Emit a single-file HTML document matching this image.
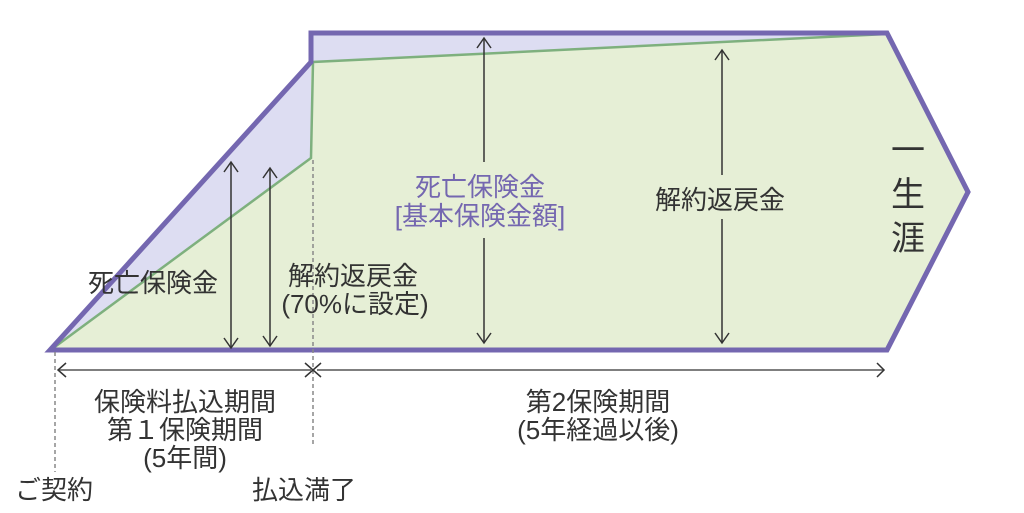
<!DOCTYPE html>
<html><head><meta charset="utf-8"><style>
body{margin:0;background:#fff;}
svg text{font-family:"Liberation Sans","Noto Sans CJK JP",sans-serif;fill:#333;}
</style></head><body>
<svg width="1024" height="508" viewBox="0 0 1024 508" xmlns="http://www.w3.org/2000/svg">
<polygon points="50,350 311,62 311,33 887,33 968,192 887,350" fill="#ddddf2"/>
<polygon points="52,350 311,158 311,62 887,34 968,192 887,350" fill="#e6efd6"/>
<polyline points="52,349 311,158 313,62 887,34" fill="none" stroke="#7eb07e" stroke-width="2.5"/>
<polygon points="50,350 311,62 311,33 887,33 968,192 887,350" fill="none" stroke="#7467b0" stroke-width="5" stroke-linejoin="miter"/>
<g stroke="#888" stroke-width="1.5" stroke-dasharray="4,3">
<line x1="55" y1="352" x2="55" y2="472"/>
<line x1="313" y1="160" x2="313" y2="445"/>
</g>
<g stroke="#333" stroke-width="1.5" fill="none">
<line x1="231" y1="162" x2="231" y2="348"/><polyline points="224,172 231,162 238,172"/><polyline points="224,338 231,348 238,338"/>
<line x1="270" y1="168" x2="270" y2="346"/><polyline points="263,178 270,168 277,178"/><polyline points="263,336 270,346 277,336"/>
<line x1="484" y1="38" x2="484" y2="162"/><line x1="484" y1="238" x2="484" y2="343"/><polyline points="477,48 484,38 491,48"/><polyline points="477,333 484,343 491,333"/>
<line x1="722" y1="50" x2="722" y2="175"/><line x1="722" y1="219" x2="722" y2="343"/><polyline points="715,60 722,50 729,60"/><polyline points="715,333 722,343 729,333"/>
<line x1="58" y1="370" x2="311" y2="370" stroke="#555"/><polyline points="66,363 58,370 66,377"/><polyline points="305,363 313,370 305,377"/>
<line x1="317" y1="370" x2="884" y2="370" stroke="#555"/><polyline points="321,363 313,370 321,377"/><polyline points="877,363 884,370 877,377"/>
</g>
<g font-size="26">
<text x="153" y="292" text-anchor="middle">死亡保険金</text>
<text x="353" y="285" text-anchor="middle">解約返戻金</text>
<text x="355" y="313" text-anchor="middle">(70%に設定)</text>
<text x="480" y="196" text-anchor="middle" style="fill:#7467b0">死亡保険金</text>
<text x="480" y="225" text-anchor="middle" style="fill:#7467b0">[基本保険金額]</text>
<text x="720" y="209" text-anchor="middle">解約返戻金</text>
<text x="185" y="411" text-anchor="middle">保険料払込期間</text>
<text x="185" y="439" text-anchor="middle">第１保険期間</text>
<text x="185" y="467" text-anchor="middle">(5年間)</text>
<text x="54" y="499" text-anchor="middle">ご契約</text>
<text x="304" y="499" text-anchor="middle">払込満了</text>
<text x="598" y="411" text-anchor="middle">第2保険期間</text>
<text x="598" y="439" text-anchor="middle">(5年経過以後)</text>
</g>
<g font-size="34" text-anchor="middle">
<text x="908" y="162">一</text>
<text x="908" y="206">生</text>
<text x="908" y="250">涯</text>
</g>
</svg>
</body></html>
